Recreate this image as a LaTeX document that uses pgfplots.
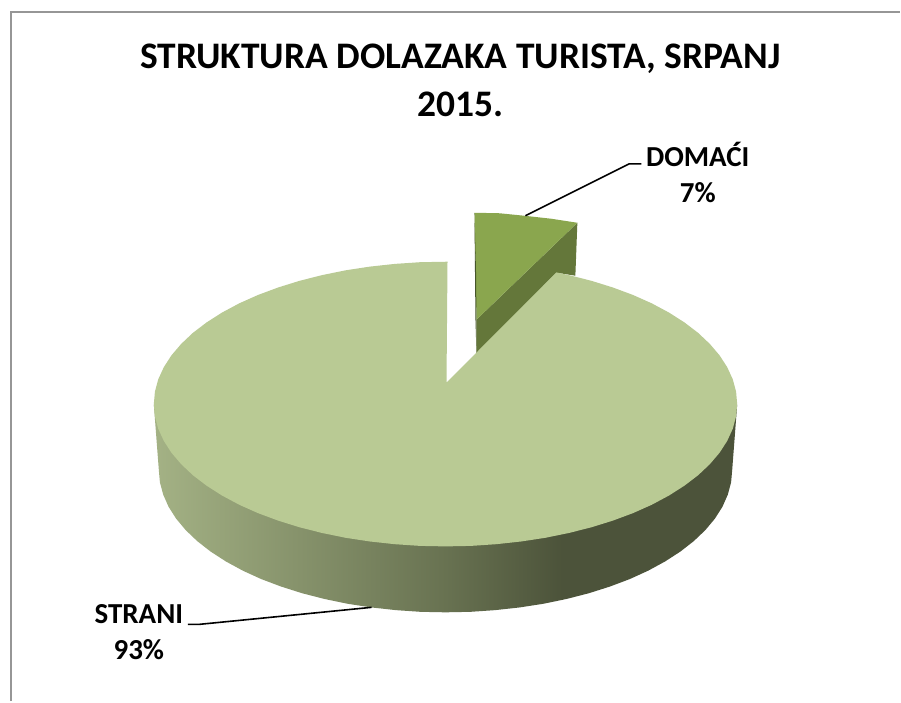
\documentclass[border=0pt]{standalone}
\usepackage{pgfplots}
\usepackage{fontspec}
\setmainfont{Carlito}
\pgfplotsset{compat=1.18}
\definecolor{topc}{HTML}{B9CA94}
\definecolor{domtop}{HTML}{8AA64E}
\definecolor{domside}{HTML}{64773A}
\definecolor{domedge}{HTML}{46552A}
\definecolor{sideA}{HTML}{A4B285}
\definecolor{sideB}{HTML}{687251}
\definecolor{sideC}{HTML}{4C533A}
\definecolor{frame}{HTML}{969696}
\pgfdeclarehorizontalshading{pieside}{100bp}{color(0bp)=(sideA); color(25bp)=(sideA); color(50bp)=(sideB); color(60bp)=(sideC); color(100bp)=(sideC)}
\begin{document}
\begin{tikzpicture}
\begin{axis}[
  scale only axis, width=901pt, height=702pt,
  xmin=0, xmax=901, ymin=0, ymax=702, y dir=reverse,
  hide axis, clip=false, no markers,
  title={STRUKTURA DOLAZAKA TURISTA, SRPANJ\\2015.},
  title style={at={(0.5115,0.9333)}, anchor=north, align=center, font=\bfseries\fontsize{37.5}{48}\selectfont},
]
% page extent
\addplot[draw=none, fill=white] coordinates {(0,0)(901,0)(901,702)(0,702)} --cycle;
% frame
\addplot[draw=frame, line width=2pt] coordinates {(11.5,702)(11.5,12)(901,12)};
% DOMACI slice
\addplot[fill=domside, draw=none] coordinates {(578,223)(576,276)(557,273)(477,354)(477,320)} --cycle;
\addplot[fill=domtop, draw=none] coordinates {(475,213)(500,213.5)(525,216)(552,219)(578,223)(477,320)} --cycle;
\addplot[fill=domedge, draw=none] coordinates {(475,213)(475.5,270)(476,320)(477,354)(477,320)(476.5,270)} --cycle;
% STRANI side wall
\addplot[shade, shading=pieside, draw=none] coordinates {
(154,405)(159,470.5)(160.1,482.9)(163.4,495.2)(168.8,507.4)(176.3,519.2)(185.9,530.7)(197.5,541.75)(210.9,552.2)(226.2,562.1)(243.1,571.3)(261.5,579.7)(281.4,587.2)(302.5,593.9)(324.7,599.6)(347.8,604.4)(371.7,608.1)(396.2,610.8)(421,612.5)(446,613)(471,612.5)(495.8,610.8)(520.3,608.1)(544.2,604.4)(567.3,599.6)(589.5,593.9)(610.6,587.2)(630.5,579.7)(648.9,571.3)(665.8,562.1)(681.1,552.2)(694.5,541.75)(706.1,530.7)(715.7,519.2)(723.2,507.4)(728.6,495.2)(731.9,482.9)(733,470.5)(738,405)
} --cycle;
% STRANI top
\addplot[fill=topc, draw=none] coordinates {
(447,383)(557,272.7)(569.4,275.4)(592,281.1)(613.5,287.8)(633.7,295.3)(652.5,303.7)(669.7,312.9)(685.2,322.8)(698.9,333.25)(710.6,344.3)(720.4,355.8)(728,367.6)(733.6,379.8)(736.9,392.1)(738,404.5)(736.9,416.9)(733.6,429.2)(728,441.4)(720.4,453.2)(710.6,464.7)(698.9,475.75)(685.2,486.2)(669.7,496.1)(652.5,505.3)(633.7,513.7)(613.5,521.2)(592,527.9)(569.4,533.6)(545.9,538.4)(521.6,542.1)(496.7,544.8)(471.5,546.5)(446,547)(420.5,546.5)(395.3,544.8)(370.4,542.1)(346.1,538.4)(322.6,533.6)(300,527.9)(278.5,521.2)(258.3,513.7)(239.5,505.3)(222.3,496.1)(206.8,486.2)(193.1,475.75)(181.4,464.7)(171.6,453.2)(164,441.4)(158.4,429.2)(155.1,416.9)(154,404.5)(155.1,392.1)(158.4,379.8)(164,367.6)(171.6,355.8)(181.4,344.3)(193.1,333.25)(206.8,322.8)(222.3,312.9)(239.5,303.7)(258.3,295.3)(278.5,287.8)(300,281.1)(322.6,275.4)(346.1,270.6)(370.4,266.9)(395.3,264.2)(420.5,262.5)(448,262)
} --cycle;
% leader lines
\addplot[black, line width=1.6pt] coordinates {(526,216)(630,164)(642,164)};
\addplot[black, line width=1.6pt] coordinates {(372,608)(200,625)(188,625)};
% labels
\node[font=\bfseries\fontsize{29}{36}\selectfont, align=center, anchor=center] at (axis cs:698.5,173) {DOMAĆI\\7\%};
\node[font=\bfseries\fontsize{29}{36}\selectfont, align=center, anchor=center] at (axis cs:139,633) {STRANI\\93\%};
\end{axis}
\end{tikzpicture}
\end{document}
